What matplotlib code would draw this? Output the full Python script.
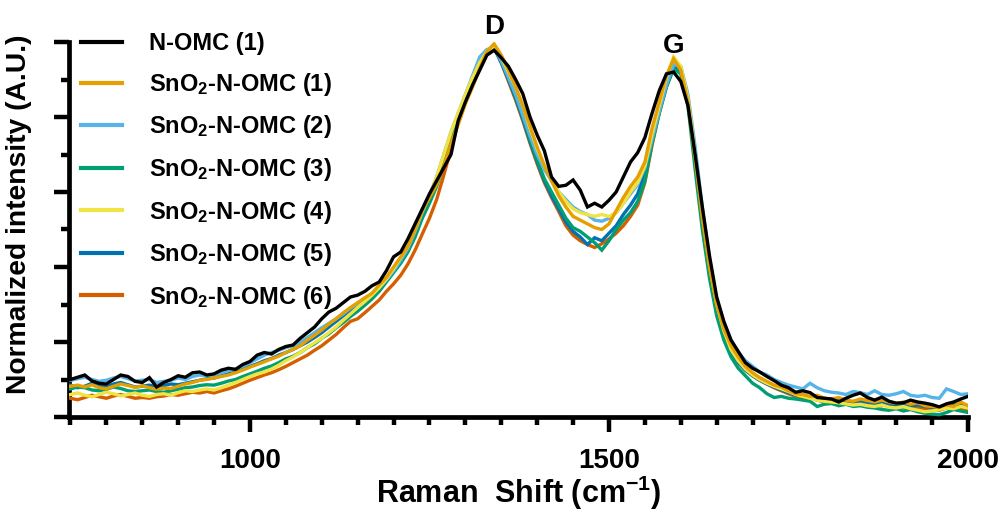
import matplotlib
matplotlib.use("Agg")
import matplotlib.pyplot as plt
import numpy as np
from matplotlib.ticker import MultipleLocator

plt.rcParams["font.family"] = ["Liberation Sans", "DejaVu Sans"]
plt.rcParams["font.weight"] = "bold"
plt.rcParams["mathtext.fontset"] = "custom"
plt.rcParams["mathtext.rm"] = "Liberation Sans:bold"
plt.rcParams["mathtext.bf"] = "Liberation Sans:bold"
plt.rcParams["mathtext.default"] = "regular"

# Raman shift grid (cm-1), one value every 10 cm-1 from 750 to 2000
raman_shift = np.arange(750, 2001, 10)

n_omc_1 = [
    0.100, 0.106, 0.112, 0.096, 0.090, 0.088, 0.100, 0.112, 0.108, 0.095,
    0.092, 0.105, 0.080, 0.092, 0.100, 0.110, 0.106, 0.118, 0.120, 0.112,
    0.115, 0.125, 0.130, 0.127, 0.140, 0.148, 0.165, 0.172, 0.168, 0.180,
    0.188, 0.192, 0.210, 0.225, 0.240, 0.262, 0.280, 0.290, 0.305, 0.320,
    0.325, 0.335, 0.350, 0.360, 0.390, 0.427, 0.440, 0.475, 0.515, 0.555,
    0.595, 0.630, 0.665, 0.700, 0.790, 0.840, 0.885, 0.925, 0.965, 0.978,
    0.958, 0.935, 0.900, 0.862, 0.800, 0.752, 0.710, 0.640, 0.615, 0.618,
    0.632, 0.605, 0.560, 0.570, 0.560, 0.578, 0.600, 0.640, 0.680, 0.705,
    0.745, 0.810, 0.870, 0.915, 0.920, 0.895, 0.830, 0.700, 0.560, 0.430,
    0.320, 0.255, 0.205, 0.175, 0.145, 0.130, 0.120, 0.108, 0.097, 0.085,
    0.078, 0.066, 0.070, 0.065, 0.052, 0.050, 0.048, 0.040, 0.050, 0.058,
    0.064, 0.052, 0.045, 0.053, 0.042, 0.037, 0.038, 0.045, 0.040, 0.037,
    0.033, 0.027, 0.035, 0.040, 0.048, 0.055,
]
sno2_1 = [
    0.082, 0.085, 0.080, 0.086, 0.078, 0.075, 0.082, 0.088, 0.084, 0.079,
    0.083, 0.078, 0.074, 0.077, 0.076, 0.082, 0.088, 0.092, 0.098, 0.100,
    0.104, 0.108, 0.112, 0.118, 0.125, 0.133, 0.140, 0.147, 0.155, 0.162,
    0.172, 0.180, 0.190, 0.205, 0.218, 0.232, 0.248, 0.262, 0.278, 0.292,
    0.305, 0.318, 0.330, 0.352, 0.372, 0.400, 0.427, 0.455, 0.500, 0.550,
    0.585, 0.620, 0.670, 0.730, 0.780, 0.835, 0.880, 0.930, 0.975, 0.995,
    0.965, 0.925, 0.880, 0.830, 0.775, 0.720, 0.670, 0.630, 0.590, 0.560,
    0.535, 0.525, 0.515, 0.505, 0.500, 0.515, 0.550, 0.585, 0.615, 0.640,
    0.680, 0.770, 0.840, 0.910, 0.955, 0.925, 0.840, 0.690, 0.530, 0.400,
    0.300, 0.235, 0.190, 0.160, 0.135, 0.118, 0.105, 0.095, 0.085, 0.080,
    0.070, 0.062, 0.060, 0.055, 0.058, 0.050, 0.048, 0.052, 0.045, 0.042,
    0.048, 0.044, 0.040, 0.045, 0.040, 0.036, 0.040, 0.034, 0.038, 0.030,
    0.028, 0.026, 0.032, 0.028, 0.040, 0.030,
]
sno2_2 = [
    0.098, 0.102, 0.106, 0.100, 0.095, 0.098, 0.104, 0.108, 0.102, 0.096,
    0.098, 0.100, 0.092, 0.095, 0.098, 0.104, 0.100, 0.108, 0.112, 0.110,
    0.112, 0.118, 0.124, 0.128, 0.135, 0.145, 0.155, 0.165, 0.172, 0.178,
    0.185, 0.190, 0.200, 0.212, 0.225, 0.238, 0.250, 0.262, 0.275, 0.290,
    0.302, 0.315, 0.328, 0.345, 0.365, 0.390, 0.418, 0.450, 0.495, 0.545,
    0.590, 0.640, 0.700, 0.760, 0.810, 0.860, 0.910, 0.960, 0.980, 0.985,
    0.950, 0.905, 0.860, 0.805, 0.750, 0.700, 0.660, 0.630, 0.600, 0.580,
    0.560, 0.548, 0.540, 0.525, 0.522, 0.530, 0.545, 0.570, 0.595, 0.620,
    0.665, 0.740, 0.815, 0.885, 0.940, 0.935, 0.860, 0.720, 0.560, 0.420,
    0.315, 0.250, 0.205, 0.172, 0.150, 0.135, 0.120, 0.112, 0.100, 0.092,
    0.085, 0.080, 0.075, 0.090, 0.078, 0.070, 0.066, 0.064, 0.060, 0.068,
    0.065, 0.060, 0.070, 0.060, 0.058, 0.062, 0.068, 0.058, 0.055, 0.058,
    0.052, 0.050, 0.075, 0.068, 0.060, 0.062,
]
sno2_3 = [
    0.075, 0.080, 0.078, 0.072, 0.070, 0.074, 0.080, 0.076, 0.070, 0.068,
    0.070, 0.072, 0.068, 0.066, 0.070, 0.074, 0.078, 0.080, 0.084, 0.086,
    0.085, 0.090, 0.096, 0.100, 0.108, 0.115, 0.122, 0.130, 0.136, 0.145,
    0.155, 0.162, 0.172, 0.185, 0.195, 0.210, 0.222, 0.238, 0.252, 0.268,
    0.282, 0.298, 0.315, 0.335, 0.360, 0.385, 0.410, 0.440, 0.480, 0.530,
    0.570, 0.615, 0.670, 0.730, 0.790, 0.845, 0.895, 0.940, 0.975, 0.985,
    0.950, 0.905, 0.855, 0.800, 0.740, 0.685, 0.635, 0.600, 0.565, 0.530,
    0.505, 0.495, 0.480, 0.465, 0.445, 0.470, 0.500, 0.525, 0.545, 0.575,
    0.630, 0.730, 0.810, 0.880, 0.930, 0.915, 0.830, 0.660, 0.500, 0.370,
    0.270, 0.205, 0.160, 0.130, 0.110, 0.090, 0.078, 0.062, 0.052, 0.055,
    0.050, 0.048, 0.045, 0.042, 0.028, 0.034, 0.036, 0.030, 0.034, 0.028,
    0.030, 0.026, 0.024, 0.020, 0.018, 0.022, 0.016, 0.020, 0.014, 0.010,
    0.008, 0.006, 0.012, 0.020, 0.016, 0.012,
]
sno2_4 = [
    0.060, 0.064, 0.058, 0.054, 0.060, 0.066, 0.062, 0.056, 0.060, 0.064,
    0.058, 0.055, 0.060, 0.062, 0.058, 0.065, 0.070, 0.068, 0.072, 0.075,
    0.072, 0.078, 0.085, 0.092, 0.100, 0.108, 0.115, 0.120, 0.128, 0.138,
    0.150, 0.160, 0.172, 0.185, 0.198, 0.210, 0.225, 0.240, 0.258, 0.275,
    0.292, 0.308, 0.325, 0.345, 0.368, 0.395, 0.425, 0.455, 0.500, 0.550,
    0.590, 0.640, 0.700, 0.760, 0.810, 0.860, 0.905, 0.945, 0.975, 0.990,
    0.960, 0.920, 0.880, 0.830, 0.770, 0.715, 0.670, 0.630, 0.600, 0.575,
    0.555, 0.545, 0.540, 0.535, 0.540, 0.535, 0.545, 0.570, 0.600, 0.625,
    0.670, 0.755, 0.830, 0.905, 0.960, 0.935, 0.850, 0.700, 0.540, 0.405,
    0.300, 0.230, 0.180, 0.150, 0.128, 0.112, 0.100, 0.090, 0.082, 0.075,
    0.068, 0.060, 0.055, 0.050, 0.045, 0.042, 0.040, 0.038, 0.035, 0.032,
    0.034, 0.030, 0.028, 0.032, 0.026, 0.024, 0.028, 0.022, 0.018, 0.014,
    0.016, 0.020, 0.024, 0.022, 0.028, 0.024,
]
sno2_5 = [
    0.085, 0.078, 0.082, 0.090, 0.084, 0.080, 0.088, 0.092, 0.086, 0.080,
    0.082, 0.085, 0.080, 0.084, 0.088, 0.086, 0.090, 0.094, 0.098, 0.102,
    0.104, 0.110, 0.115, 0.120, 0.128, 0.135, 0.142, 0.150, 0.156, 0.165,
    0.172, 0.180, 0.190, 0.200, 0.212, 0.225, 0.240, 0.255, 0.270, 0.285,
    0.300, 0.312, 0.325, 0.345, 0.368, 0.392, 0.420, 0.450, 0.495, 0.545,
    0.585, 0.630, 0.690, 0.750, 0.800, 0.850, 0.900, 0.950, 0.975, 0.985,
    0.945, 0.900, 0.850, 0.795, 0.735, 0.680, 0.630, 0.590, 0.555, 0.520,
    0.495, 0.480, 0.460, 0.478, 0.470, 0.490, 0.510, 0.540, 0.565, 0.595,
    0.650, 0.740, 0.815, 0.885, 0.935, 0.925, 0.845, 0.690, 0.520, 0.385,
    0.285, 0.220, 0.175, 0.145, 0.125, 0.110, 0.098, 0.088, 0.080, 0.072,
    0.065, 0.058, 0.060, 0.052, 0.050, 0.048, 0.045, 0.048, 0.042, 0.040,
    0.042, 0.040, 0.036, 0.040, 0.035, 0.032, 0.034, 0.030, 0.032, 0.028,
    0.026, 0.024, 0.030, 0.032, 0.035, 0.030,
]
sno2_6 = [
    0.050, 0.046, 0.052, 0.058, 0.054, 0.050, 0.056, 0.060, 0.055, 0.050,
    0.052, 0.050, 0.054, 0.056, 0.060, 0.058, 0.062, 0.066, 0.064, 0.068,
    0.064, 0.070, 0.075, 0.082, 0.090, 0.098, 0.105, 0.112, 0.118, 0.126,
    0.135, 0.145, 0.155, 0.165, 0.178, 0.190, 0.205, 0.220, 0.238, 0.255,
    0.262, 0.278, 0.295, 0.312, 0.335, 0.355, 0.378, 0.408, 0.445, 0.488,
    0.530, 0.580, 0.645, 0.715, 0.785, 0.840, 0.890, 0.935, 0.970, 0.985,
    0.945, 0.895, 0.845, 0.790, 0.730, 0.675, 0.625, 0.585, 0.548, 0.510,
    0.485, 0.470, 0.460, 0.452, 0.462, 0.475, 0.490, 0.510, 0.535, 0.565,
    0.625, 0.725, 0.810, 0.880, 0.930, 0.925, 0.845, 0.690, 0.520, 0.385,
    0.285, 0.220, 0.175, 0.145, 0.125, 0.110, 0.098, 0.088, 0.078, 0.070,
    0.062, 0.055, 0.050, 0.052, 0.045, 0.040, 0.038, 0.042, 0.040, 0.036,
    0.038, 0.035, 0.032, 0.030, 0.034, 0.030, 0.026, 0.028, 0.024, 0.022,
    0.020, 0.018, 0.024, 0.026, 0.022, 0.020,
]

labels = ["N-OMC (1)"] + [f"SnO$_2$-N-OMC ({i})" for i in range(1, 7)]
series = [n_omc_1, sno2_1, sno2_2, sno2_3, sno2_4, sno2_5, sno2_6]
colors = ["black", "#E69F00", "#56B4E9", "#009E73", "#F0E442", "#0072B2", "#D55E00"]
zorders = [10, 8, 6, 5, 7, 4, 3]

fig = plt.figure(figsize=(10.05, 5.12), dpi=100)
ax = fig.add_axes([69 / 1005, 1 - 417 / 512, (968 - 69) / 1005, (417 - 42) / 512])

handles = []
for y, lab, c, z in zip(series, labels, colors, zorders):
    h, = ax.plot(raman_shift, y, color=c, lw=2.4, label=lab, zorder=z, solid_joinstyle="miter")
    handles.append(h)

ax.set_xlim(748, 2000)
ax.set_ylim(0, 1.0)
ax.xaxis.set_major_locator(MultipleLocator(500))
ax.xaxis.set_minor_locator(MultipleLocator(50))
ax.yaxis.set_major_locator(MultipleLocator(0.2))
ax.yaxis.set_minor_locator(MultipleLocator(0.1))
ax.tick_params(axis="both", which="major", length=11, width=3.2, direction="out", labelsize=20, pad=11)
ax.tick_params(axis="both", which="minor", length=6, width=3.2, direction="out")
ax.tick_params(axis="y", labelleft=False)
for s in ("top", "right"):
    ax.spines[s].set_visible(False)
for s in ("left", "bottom"):
    ax.spines[s].set_linewidth(3.4)
    ax.spines[s].set_capstyle("projecting")

ax.set_xlabel("Raman  Shift (cm$^{-1}$)", fontsize=22, fontweight="bold", labelpad=0)
ax.set_ylabel("Normalized intensity (A.U.)", fontsize=20.3, fontweight="bold")
ax.yaxis.set_label_coords(-0.041, 0.54)

ax.text(1340, 1.04, "D", fontsize=20, fontweight="bold", ha="center", va="center", clip_on=False)
ax.text(1590, 0.99, "G", fontsize=20, fontweight="bold", ha="center", va="center", clip_on=False)

leg = ax.legend(handles=handles, loc="upper left", bbox_to_anchor=(0.006, 1.045), frameon=False,
                fontsize=17, handlelength=1.7, handletextpad=1.15, labelspacing=0.66,
                borderaxespad=0.0, borderpad=0.3)
for t in leg.get_texts():
    t.set_fontweight("bold")
for ln in leg.get_lines():
    ln.set_linewidth(3.0)

fig.savefig("out.png", dpi=100)
